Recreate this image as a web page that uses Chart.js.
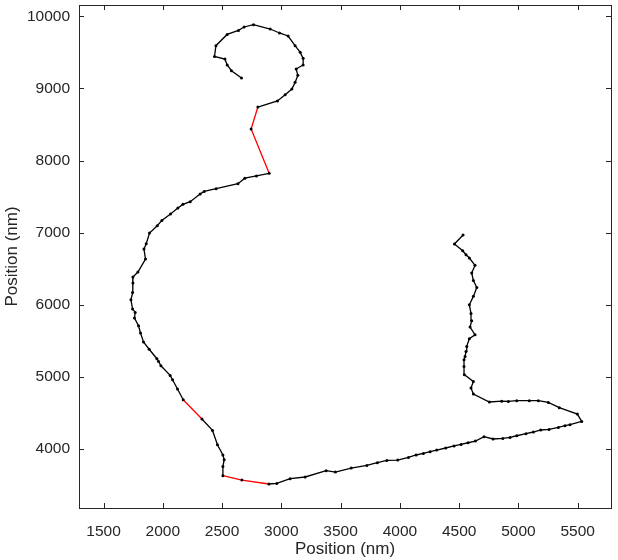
<!DOCTYPE html>
<html>
<head>
<meta charset="utf-8">
<script src="https://cdn.jsdelivr.net/npm/chart.js@4.4.1/dist/chart.umd.min.js"></script>
<style>
  html, body { margin: 0; padding: 0; background: #fff; }
  #wrap { width: 618px; height: 560px; }
</style>
</head>
<body>
<div id="wrap"><canvas id="grafico" width="618" height="560"></canvas></div>
<script>
// trajectory (nm)
const posX = [
  2664, 2579, 2543, 2524, 2436, 2448, 2543, 2638, 2686, 2765,
  2906, 2984, 3057, 3116, 3159, 3184, 3184, 3125, 3139, 3116,
  3089, 3032, 2967, 2802, 2745, 2897, 2790, 2692, 2634, 2450,
  2349, 2315, 2231, 2170, 2127, 2065, 1992, 1953, 1888, 1860,
  1841, 1854, 1790, 1748, 1748, 1745, 1731, 1745, 1767, 1761,
  1795, 1812, 1837, 1885, 1950, 1964, 1984, 2062, 2082, 2124,
  2172, 2330, 2419, 2461, 2507, 2518, 2507, 2507, 2667, 2895,
  2962, 3074, 3201, 3378, 3456, 3589, 3721, 3810, 3890, 3982,
  4072, 4137, 4198, 4255, 4311, 4387, 4457, 4516, 4575, 4637,
  4710, 4786, 4868, 4929, 4986, 5064, 5126, 5188, 5258, 5337,
  5393, 5435, 5534, 5497, 5345, 5252, 5168, 5092, 4986, 4915,
  4859, 4755, 4620, 4600, 4620, 4544, 4541, 4541, 4550, 4558,
  4564, 4586, 4634, 4592, 4606, 4600, 4586, 4620, 4649, 4620,
  4606, 4634, 4586, 4558, 4530, 4460, 4533
];
const posY = [
  9145, 9247, 9326, 9409, 9445, 9594, 9750, 9806, 9853, 9885,
  9825, 9770, 9728, 9594, 9501, 9418, 9326, 9271, 9182, 9085,
  8993, 8914, 8827, 8743, 8438, 7823, 7788, 7756, 7680, 7610,
  7573, 7537, 7430, 7393, 7343, 7259, 7171, 7097, 6996, 6848,
  6774, 6635, 6455, 6386, 6302, 6172, 6071, 5942, 5895, 5817,
  5710, 5609, 5484, 5384, 5252, 5215, 5155, 5021, 4961, 4832,
  4684, 4416, 4258, 4060, 3917, 3852, 3759, 3630, 3570, 3515,
  3523, 3588, 3612, 3699, 3681, 3736, 3773, 3810, 3842, 3847,
  3883, 3917, 3939, 3963, 3986, 4014, 4042, 4064, 4087, 4111,
  4171, 4139, 4147, 4161, 4184, 4212, 4236, 4264, 4272, 4300,
  4323, 4337, 4383, 4485, 4573, 4646, 4670, 4670, 4670, 4660,
  4663, 4652, 4763, 4846, 4938, 5031, 5146, 5239, 5284, 5354,
  5423, 5530, 5585, 5692, 5780, 5881, 6001, 6117, 6241, 6338,
  6441, 6547, 6649, 6695, 6750, 6843, 6968
];
// index of the first point of every red step
const passosVermelhos = [23, 24, 60, 67, 68];

const xTicks = [1500, 2000, 2500, 3000, 3500, 4000, 4500, 5000, 5500];
const yTicks = [4000, 5000, 6000, 7000, 8000, 9000, 10000];

const corTexto = "#262626";
const fonteEixo = "'Liberation Sans', Arial, sans-serif";

// caixa e ticks para dentro, como no MATLAB
const caixaPlugin = {
  id: "caixa",
  afterDraw(chart) {
    const { ctx, chartArea: a, scales } = chart;
    const t = 5;
    ctx.save();
    ctx.strokeStyle = corTexto;
    ctx.lineWidth = 1;
    ctx.beginPath();
    scales.x.ticks.forEach((tk) => {
      const px = Math.round(scales.x.getPixelForValue(tk.value)) + 0.5;
      ctx.moveTo(px, a.bottom); ctx.lineTo(px, a.bottom - t);
      ctx.moveTo(px, a.top); ctx.lineTo(px, a.top + t);
    });
    scales.y.ticks.forEach((tk) => {
      const py = Math.round(scales.y.getPixelForValue(tk.value)) + 0.5;
      ctx.moveTo(a.left, py); ctx.lineTo(a.left + t, py);
      ctx.moveTo(a.right, py); ctx.lineTo(a.right - t, py);
    });
    ctx.stroke();
    ctx.strokeRect(Math.round(a.left) + 0.5, Math.round(a.top) + 0.5,
      Math.round(a.right - a.left), Math.round(a.bottom - a.top));
    ctx.restore();
  },
};

const pontos = posX.map((x, i) => ({ x: x, y: posY[i] }));

const grafico = new Chart(document.getElementById("grafico"), {
  type: "scatter",
  data: {
    datasets: [
      {
        data: pontos,
        showLine: true,
        borderColor: "#000000",
        borderWidth: 1.3,
        pointRadius: 1.5,
        pointBorderWidth: 0,
        pointBackgroundColor: "#000000",
        segment: {
          borderColor: (c) =>
            passosVermelhos.includes(c.p0DataIndex) ? "#ff0000" : "#000000",
        },
      },
    ],
  },
  options: {
    responsive: false,
    animation: false,
    layout: { padding: { top: 5, right: 7, left: 0, bottom: 0 } },
    plugins: {
      legend: { display: false },
      tooltip: { enabled: false },
    },
    scales: {
      x: {
        type: "linear",
        min: 1293,
        max: 5781,
        afterBuildTicks: (s) => { s.ticks = xTicks.map((v) => ({ value: v })); },
        afterFit: (s) => { s.height = 52; s.paddingLeft = 0; s.paddingRight = 0; },
        grid: { display: false },
        border: { display: false },
        ticks: {
          color: corTexto,
          padding: 6,
          maxRotation: 0,
          font: { family: fonteEixo, size: 15.5 },
          callback: (v) => String(v),
        },
        title: {
          display: true,
          text: "Position (nm)",
          color: corTexto,
          padding: { top: 1, bottom: 0 },
          font: { family: fonteEixo, size: 17 },
        },
      },
      y: {
        type: "linear",
        min: 3182,
        max: 10158,
        afterBuildTicks: (s) => { s.ticks = yTicks.map((v) => ({ value: v })); },
        afterFit: (s) => { s.width = 79; s.paddingTop = 0; s.paddingBottom = 0; },
        grid: { display: false },
        border: { display: false },
        ticks: {
          color: corTexto,
          padding: 1,
          font: { family: fonteEixo, size: 15.5 },
          callback: (v) => String(v),
        },
        title: {
          display: true,
          text: "Position (nm)",
          color: corTexto,
          padding: { top: 2, bottom: 0 },
          font: { family: fonteEixo, size: 17 },
        },
      },
    },
  },
  plugins: [caixaPlugin],
});
</script>
</body>
</html>
